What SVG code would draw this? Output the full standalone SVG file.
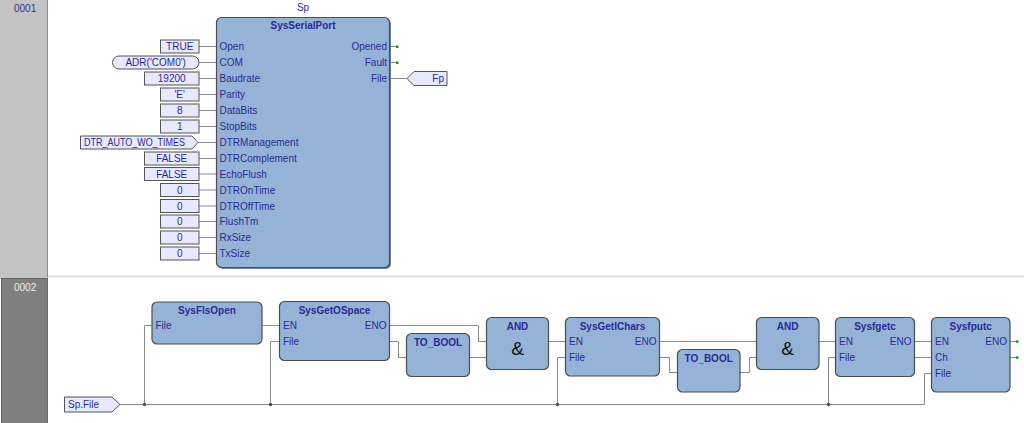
<svg xmlns="http://www.w3.org/2000/svg" width="1024" height="423" viewBox="0 0 1024 423">
<style>
text{font-family:"Liberation Sans",Arial,sans-serif;font-size:10px;fill:#2a2a96}
.t{font-weight:bold;text-anchor:middle}
.r{text-anchor:end}
.m{text-anchor:middle}
.blk{fill:#95b3d7;stroke:#4d4d4d;stroke-width:1.2}
.sh{fill:#6f7f96}
.cst{fill:#e8e8ff;stroke:#555;stroke-width:1}
.w{fill:none;stroke:#8a8a8a;stroke-width:1}
.dot{fill:#555}
.g{fill:#1a9a1a}
.amp{font-size:19px;fill:#111;text-anchor:middle;font-family:"Liberation Sans",Arial,sans-serif}
</style>
<rect x="0" y="0" width="1024" height="423" fill="#fff"/>
<!-- row header columns -->
<rect x="0" y="0" width="48" height="277" fill="#c3c3c3"/>
<line x1="47.5" y1="0" x2="47.5" y2="277" stroke="#8c8c8c"/>
<line x1="48" y1="276.5" x2="1024" y2="276.5" stroke="#dcdcdc" stroke-width="2"/>
<rect x="0" y="277" width="48" height="2" fill="#c3c3c3"/>
<rect x="1.5" y="278.5" width="46" height="146" fill="#7f7f7f" stroke="#666"/>
<text x="14" y="12" style="fill:#333399">0001</text>
<text x="14" y="291" style="fill:#ececec">0002</text>

<g id="connectors">
  <!-- row 1 -->
  <path class="w" d="M199 46.5H216.5M199 62.5H216.5M199 78.5H216.5M199 94.5H216.5M199 110.5H216.5M199 126.5H216.5M198 142.5H216.5M199 158.5H216.5M199 174H216.5M199 190H216.5M199 206H216.5M199 221.5H216.5M199 237.5H216.5M199 253.5H216.5"/>
  <path class="w" d="M390 46.5H397M390 62.5H397M390 78.5H407"/>
  <rect class="g" x="396" y="45.5" width="2.5" height="2.5"/>
  <rect class="g" x="396" y="61.5" width="2.5" height="2.5"/>
  <!-- row 2 -->
  <path class="w" d="M120 404.5H924.5V373.5H931.5"/>
  <path class="w" d="M144.5 404.5V325.5H152"/>
  <path class="w" d="M270.5 404.5V341.5H279.5"/>
  <path class="w" d="M557.5 404.5V357.5H565.5"/>
  <path class="w" d="M828.5 404.5V357.5H835.5"/>
  <path class="w" d="M262 325.5H279.5"/>
  <path class="w" d="M389.5 325.5H478.5V341.5H486.5"/>
  <path class="w" d="M389.5 341.5H398.5V357.5H406.5"/>
  <path class="w" d="M469.5 357.5H486.5"/>
  <path class="w" d="M548.5 341.5H565.5"/>
  <path class="w" d="M659.5 341.5H756.5"/>
  <path class="w" d="M659.5 357.5H669.5V372.5H677.5"/>
  <path class="w" d="M740 372.5H749.5V357.5H756.5"/>
  <path class="w" d="M819 341.5H835.5"/>
  <path class="w" d="M914.5 341.5H931.5"/>
  <path class="w" d="M914.5 357.5H931.5"/>
  <path class="w" d="M1010 341.5H1017M1010 357.5H1017"/>
  <rect class="g" x="1016" y="340.3" width="2.5" height="2.5"/>
  <rect class="g" x="1016" y="356.3" width="2.5" height="2.5"/>
  <circle class="dot" cx="144.5" cy="404.5" r="1.8"/>
  <circle class="dot" cx="270.5" cy="404.5" r="1.8"/>
  <circle class="dot" cx="557.5" cy="404.5" r="1.8"/>
  <circle class="dot" cx="828.5" cy="404.5" r="1.8"/>
</g>

<g id="consts">
  <rect class="cst" x="160.5" y="40" width="38.5" height="13"/><text class="m" x="179.7" y="50">TRUE</text>
  <rect class="cst" x="112.5" y="56" width="86.5" height="13" rx="6.5"/><text class="m" x="155.7" y="66">ADR('COM0')</text>
  <rect class="cst" x="144.5" y="72" width="54.5" height="13"/><text class="m" x="171.7" y="82">19200</text>
  <rect class="cst" x="160.5" y="88" width="38.5" height="13"/><text class="m" x="179.7" y="98">'E'</text>
  <rect class="cst" x="160.5" y="104" width="38.5" height="13"/><text class="m" x="179.7" y="114">8</text>
  <rect class="cst" x="160.5" y="120" width="38.5" height="13"/><text class="m" x="179.7" y="130">1</text>
  <polygon class="cst" points="80.5,136 192,136 198,142.5 192,149 80.5,149"/><text x="84" y="146" textLength="101" lengthAdjust="spacingAndGlyphs">DTR_AUTO_WO_TIMES</text>
  <rect class="cst" x="144.5" y="152" width="54.5" height="13"/><text class="m" x="171.7" y="162">FALSE</text>
  <rect class="cst" x="144.5" y="167.5" width="54.5" height="13"/><text class="m" x="171.7" y="177.5">FALSE</text>
  <rect class="cst" x="160.5" y="183.5" width="38.5" height="13"/><text class="m" x="179.7" y="193.5">0</text>
  <rect class="cst" x="160.5" y="199.5" width="38.5" height="13"/><text class="m" x="179.7" y="209.5">0</text>
  <rect class="cst" x="160.5" y="215" width="38.5" height="13"/><text class="m" x="179.7" y="225">0</text>
  <rect class="cst" x="160.5" y="231" width="38.5" height="13"/><text class="m" x="179.7" y="241">0</text>
  <rect class="cst" x="160.5" y="247" width="38.5" height="13"/><text class="m" x="179.7" y="257">0</text>
  <polygon class="cst" points="407,78.5 414,71.5 447,71.5 447,85.5 414,85.5"/><text class="r" x="444" y="82">Fp</text>
  <polygon class="cst" points="64.5,397 112,397 120,404.5 112,412 64.5,412"/><text x="68" y="408">Sp.File</text>
</g>

<g id="SysSerialPort">
  <text class="m" x="303" y="11">Sp</text>
  <rect class="sh" x="218" y="19" width="173" height="250" rx="5"/>
  <rect class="blk" x="216.5" y="17.5" width="173" height="250" rx="5"/>
  <text class="t" x="303" y="29">SysSerialPort</text>
  <text x="219.5" y="50">Open</text>
  <text x="219.5" y="66">COM</text>
  <text x="219.5" y="82">Baudrate</text>
  <text x="219.5" y="98">Parity</text>
  <text x="219.5" y="114">DataBits</text>
  <text x="219.5" y="130">StopBits</text>
  <text x="219.5" y="146">DTRManagement</text>
  <text x="219.5" y="162">DTRComplement</text>
  <text x="219.5" y="177.5">EchoFlush</text>
  <text x="219.5" y="193.5">DTROnTime</text>
  <text x="219.5" y="209.5">DTROffTime</text>
  <text x="219.5" y="225">FlushTm</text>
  <text x="219.5" y="241">RxSize</text>
  <text x="219.5" y="257">TxSize</text>
  <text class="r" x="387" y="50">Opened</text>
  <text class="r" x="387" y="66">Fault</text>
  <text class="r" x="387" y="82">File</text>
</g>

<g id="SysFlsOpen">
  <rect class="blk" x="152" y="302" width="110" height="42" rx="5"/>
  <text class="t" x="207" y="314">SysFlsOpen</text>
  <text x="155.5" y="329">File</text>
</g>

<g id="SysGetOSpace">
  <rect class="blk" x="279.5" y="301.5" width="110" height="59" rx="5"/>
  <text class="t" x="334.5" y="313.5">SysGetOSpace</text>
  <text x="283" y="329">EN</text>
  <text x="283" y="345">File</text>
  <text class="r" x="386.5" y="329">ENO</text>
</g>

<g id="TO_BOOL1">
  <rect class="blk" x="406.5" y="333.5" width="63" height="43" rx="5"/>
  <text class="t" x="438" y="345.5">TO_BOOL</text>
</g>

<g id="AND1">
  <rect class="blk" x="486.5" y="317.5" width="62" height="52" rx="5"/>
  <text class="t" x="517.5" y="329.5">AND</text>
  <text class="amp" x="517.5" y="355">&amp;</text>
</g>

<g id="SysGetIChars">
  <rect class="blk" x="565.5" y="317.5" width="94" height="58.5" rx="5"/>
  <text class="t" x="612.5" y="329.5">SysGetIChars</text>
  <text x="569" y="345">EN</text>
  <text x="569" y="361">File</text>
  <text class="r" x="656.5" y="345">ENO</text>
</g>

<g id="TO_BOOL2">
  <rect class="blk" x="677.5" y="349.5" width="62.5" height="42.5" rx="5"/>
  <text class="t" x="708.7" y="361.5">TO_BOOL</text>
</g>

<g id="AND2">
  <rect class="blk" x="756.5" y="317.5" width="62.5" height="52" rx="5"/>
  <text class="t" x="787.7" y="329.5">AND</text>
  <text class="amp" x="787.7" y="355">&amp;</text>
</g>

<g id="Sysfgetc">
  <rect class="blk" x="835.5" y="317.5" width="79" height="59" rx="5"/>
  <text class="t" x="875" y="329.5">Sysfgetc</text>
  <text x="839" y="345">EN</text>
  <text x="839" y="361">File</text>
  <text class="r" x="911.5" y="345">ENO</text>
</g>

<g id="Sysfputc">
  <rect class="blk" x="931.5" y="317.5" width="78.5" height="74.5" rx="5"/>
  <text class="t" x="970.7" y="329.5">Sysfputc</text>
  <text x="935" y="345">EN</text>
  <text x="935" y="361">Ch</text>
  <text x="935" y="377">File</text>
  <text class="r" x="1007" y="345">ENO</text>
</g>
</svg>
